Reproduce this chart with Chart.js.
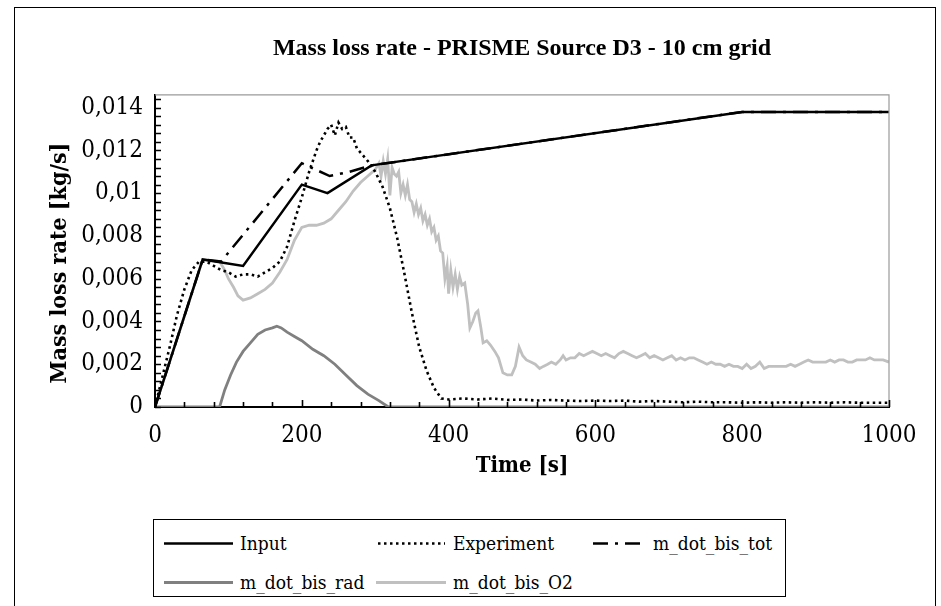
<!DOCTYPE html>
<html>
<head>
<meta charset="utf-8">
<script src="https://cdn.jsdelivr.net/npm/chart.js@4.4.1/dist/chart.umd.min.js"></script>
<style>
  html, body { margin: 0; padding: 0; background: #fff; }
  #wrap { position: relative; width: 941px; height: 606px; overflow: hidden; }
  #frame { position: absolute; left: 14px; top: 7px; width: 922px; height: 640px; border: 1.5px solid #000; box-sizing: border-box; }
  canvas { position: absolute; left: 0; top: 0; }
  #legend { position: absolute; left: 153px; top: 519px; width: 633px; height: 78px; border: 1.5px solid #000; box-sizing: border-box; background: #fff; }
  .item { position: absolute; height: 30px; font-family: "DejaVu Serif Condensed", "DejaVu Serif", serif; font-stretch: condensed; font-size: 19px; color: #000; white-space: nowrap; }
  .item svg { position: absolute; top: 0; }
  .item span { position: absolute; top: 3px; }
</style>
</head>
<body>
<div id="wrap">
  <div id="frame"></div>
  <canvas id="c" width="941" height="606"></canvas>
  <div id="legend"></div>
</div>
<script>
// ---------------- data ----------------
const seriesNames = ['Input', 'Experiment', 'm_dot_bis_tot', 'm_dot_bis_rad', 'm_dot_bis_O2'];

const inputTime   = [0, 65, 120, 200, 235, 295, 800, 1000];
const inputValues = [0, 0.0069, 0.0066, 0.0104, 0.0100, 0.0113, 0.0138, 0.0138];

const expTime   = [0,10,20,30,40,50,60,70,80,90,100,110,120,130,140,150,160,170,180,190,200,210,220,225,230,235,240,245,250,255,260,265,270,275,280,290,300,310,320,330,340,350,360,370,380,390,400,420,440,460,480,500,520,540,560,580,600,620,640,660,680,700,720,740,760,780,800,820,840,860,880,900,920,940,960,980,1000];
const expValues = [0,0.0014,0.0028,0.0043,0.0055,0.0064,0.0068,0.0068,0.0066,0.0064,0.0063,0.0061,0.0062,0.0062,0.0061,0.0063,0.0065,0.0068,0.0075,0.0087,0.0098,0.0110,0.0120,0.0124,0.0127,0.0130,0.0132,0.0127,0.0133,0.0130,0.0131,0.0126,0.0126,0.0121,0.0119,0.0115,0.0110,0.0103,0.0093,0.0079,0.0062,0.0044,0.0028,0.0017,0.0009,0.0004,0.00035,0.0004,0.00035,0.0004,0.00033,0.00035,0.0003,0.00033,0.0003,0.00028,0.0003,0.00028,0.0003,0.00025,0.00028,0.00025,0.00022,0.00025,0.00022,0.00022,0.0002,0.00022,0.0002,0.00022,0.0002,0.00022,0.0002,0.00022,0.0002,0.0002,0.0002];

const totTime   = [0, 65, 90, 200, 238, 265, 295, 800, 1000];
const totValues = [0, 0.0069, 0.0068, 0.0114, 0.0108, 0.0110, 0.0113, 0.0138, 0.0138];

const radTime   = [0,88,95,103,111,120,130,140,150,160,166,172,180,190,200,215,230,245,260,275,290,305,318,1000];
const radValues = [0,0,0.0008,0.0015,0.0021,0.0026,0.0030,0.0034,0.0036,0.0037,0.00378,0.0037,0.0035,0.0033,0.0031,0.0027,0.0024,0.0020,0.0015,0.0010,0.0006,0.0003,0,0];

const o2Time   = [0,65,88,95,100,107,113,120,130,140,150,160,170,180,190,200,210,220,230,240,250,260,270,280,290,300,305,308,311,314,317,320,323,326,329,332,335,338,341,344,347,350,353,356,359,362,365,368,371,374,377,380,383,386,389,392,395,398,400,403,406,409,412,415,418,422,426,429,433,437,440,444,447,452,457,463,468,474,480,486,491,496,501,506,512,518,524,529,535,540,546,552,556,560,566,572,578,584,590,596,602,608,614,620,626,632,638,644,650,656,662,668,674,680,686,692,698,704,710,716,722,728,734,740,746,752,758,764,770,776,782,788,794,800,806,812,818,824,830,836,842,848,854,860,866,872,878,884,890,896,902,908,914,920,926,932,938,944,950,956,962,968,974,980,986,992,1000];
const o2Values = [0,0.0069,0.0068,0.0064,0.0060,0.0056,0.0052,0.0050,0.0051,0.0053,0.0055,0.0058,0.0063,0.0069,0.0078,0.0084,0.0085,0.0085,0.0086,0.0088,0.0092,0.0096,0.0101,0.0105,0.0108,0.0111,0.0114,0.0108,0.0115,0.0109,0.0116,0.0099,0.0112,0.0109,0.0108,0.0110,0.0100,0.0104,0.0099,0.0104,0.0097,0.0096,0.0091,0.0095,0.0090,0.0093,0.0087,0.0090,0.0085,0.0088,0.0082,0.0084,0.0078,0.0080,0.0073,0.0072,0.0060,0.0066,0.0053,0.0064,0.0056,0.0062,0.0055,0.0061,0.0057,0.0058,0.0048,0.0037,0.0040,0.0044,0.0045,0.0037,0.0030,0.0031,0.0029,0.0026,0.0023,0.0016,0.0015,0.0015,0.0019,0.0028,0.0024,0.0022,0.0021,0.0020,0.0018,0.0019,0.0020,0.0021,0.0020,0.0022,0.0024,0.0022,0.0023,0.0023,0.0025,0.0024,0.0025,0.0026,0.0025,0.0024,0.0025,0.0024,0.0023,0.0025,0.0026,0.0025,0.0024,0.0023,0.0024,0.0025,0.0023,0.0024,0.0023,0.0022,0.0023,0.0024,0.0022,0.0023,0.0022,0.0023,0.0023,0.0022,0.0021,0.0020,0.0021,0.0020,0.0020,0.0019,0.0020,0.0019,0.0019,0.0018,0.0020,0.0018,0.0019,0.0021,0.0018,0.0019,0.0019,0.0019,0.0019,0.0019,0.0020,0.0019,0.0020,0.0021,0.0022,0.0021,0.0021,0.0021,0.0021,0.0022,0.0021,0.0022,0.0022,0.0021,0.0021,0.0022,0.0022,0.0022,0.0023,0.0022,0.0022,0.0022,0.0021];

const xTickLabels = ['0', '200', '400', '600', '800', '1000'];
const yTickLabels = ['0', '0,002', '0,004', '0,006', '0,008', '0,01', '0,012', '0,014'];

const titleText = 'Mass loss rate - PRISME Source D3 - 10 cm grid';
const xTitle = 'Time [s]';
const yTitle = 'Mass loss rate [kg/s]';

// ---------------- chart ----------------
const pts = (t, v) => t.map((x, i) => ({ x: x, y: v[i] }));
const serifC = '"DejaVu Serif Condensed", "DejaVu Serif", serif';

const styles = [
  { color: '#000000', width: 2.5, dash: [] },
  { color: '#000000', width: 2.6, dash: [2.5, 3.5] },
  { color: '#000000', width: 2.5, dash: [15, 7, 3, 7] },
  { color: '#808080', width: 2.8, dash: [] },
  { color: '#c0c0c0', width: 2.8, dash: [] }
];
const seriesData = [
  pts(inputTime, inputValues),
  pts(expTime, expValues),
  pts(totTime, totValues),
  pts(radTime, radValues),
  pts(o2Time, o2Values)
];

const axisDecor = {
  id: 'axisDecor',
  afterDraw(chart) {
    const ctx = chart.ctx, xs = chart.scales.x, ys = chart.scales.y, a = chart.chartArea;
    ctx.save();
    // plot area border (top & right)
    ctx.strokeStyle = '#9a9a9a';
    ctx.lineWidth = 1.2;
    ctx.beginPath();
    ctx.moveTo(a.left, a.top); ctx.lineTo(a.right, a.top); ctx.lineTo(a.right, a.bottom);
    ctx.stroke();
    // minor / major tick marks pointing inward
    ctx.strokeStyle = '#000';
    ctx.lineWidth = 1.6;
    ctx.beginPath();
    for (let i = 0; i <= 25; i++) {
      const px = Math.round(xs.getPixelForValue(i * 40)) + 0.5;
      const len = (i % 5 === 0) ? 7 : 5;
      ctx.moveTo(px, ys.bottom); ctx.lineTo(px, ys.bottom - len);
    }
    for (let i = 0; i <= 36; i++) {
      const py = Math.round(ys.getPixelForValue(i * 0.0004)) + 0.5;
      if (py < a.top) break;
      ctx.moveTo(xs.left, py); ctx.lineTo(xs.left + 6, py);
    }
    ctx.stroke();
    // y axis title
    ctx.fillStyle = '#000';
    ctx.font = 'bold 23px ' + serifC;
    ctx.textAlign = 'center';
    ctx.textBaseline = 'middle';
    ctx.translate(60, 263);
    ctx.rotate(-Math.PI / 2);
    ctx.fillText(yTitle, 0, 0);
    ctx.restore();
  }
};

new Chart(document.getElementById('c'), {
  type: 'line',
  data: {
    datasets: seriesNames.map((n, i) => ({
      label: n,
      data: seriesData[i],
      borderColor: styles[i].color,
      borderWidth: styles[i].width,
      borderDash: styles[i].dash,
      pointRadius: 0,
      tension: 0,
      fill: false
    }))
  },
  options: {
    responsive: false,
    animation: false,
    devicePixelRatio: 1,
    layout: { padding: { left: 0, right: 52, top: 0, bottom: 119 } },
    plugins: {
      legend: { display: false },
      tooltip: { enabled: false },
      title: {
        display: true,
        fullSize: false,
        text: titleText,
        color: '#000',
        font: { family: '"Liberation Serif", serif', size: 24, weight: 'bold', lineHeight: 1.2 },
        padding: { top: 34, bottom: 32 }
      }
    },
    scales: {
      x: {
        type: 'linear',
        min: 0, max: 1000,
        afterFit: (s) => { s.height = 80; },
        grid: { display: false, drawTicks: false },
        border: { display: true, color: '#000', width: 2 },
        ticks: {
          stepSize: 200,
          padding: 14,
          color: '#000',
          font: { family: serifC, size: 24 },
          callback: (v, i) => xTickLabels[i]
        },
        title: {
          display: true, text: xTitle, color: '#000',
          font: { family: serifC, size: 22, weight: 'bold', lineHeight: 1.2 },
          padding: { top: 0, bottom: 8 }
        }
      },
      y: {
        type: 'linear',
        min: 0, max: 0.0146,
        afterFit: (s) => { s.width = 155; },
        grid: { display: false, drawTicks: false },
        border: { display: true, color: '#000', width: 2 },
        ticks: {
          stepSize: 0.002,
          includeBounds: false,
          padding: 12,
          color: '#000',
          font: { family: serifC, size: 24 },
          callback: (v, i) => yTickLabels[i]
        },
        title: { display: false }
      }
    }
  },
  plugins: [axisDecor]
});

// ---------------- HTML legend ----------------
const legendPos = [
  { x: 10, y: 9, len: 69, tx: 86 },
  { x: 224, y: 9, len: 67, tx: 299 },
  { x: 439, y: 9, len: 53, tx: 499 },
  { x: 10, y: 48, len: 69, tx: 86 },
  { x: 222, y: 48, len: 70, tx: 299 }
];
const leg = document.getElementById('legend');
seriesNames.forEach((n, i) => {
  const p = legendPos[i], s = styles[i];
  const d = document.createElement('div');
  d.className = 'item';
  d.style.left = p.x + 'px';
  d.style.top = p.y + 'px';
  const dash = s.dash.length ? ` stroke-dasharray="${s.dash.join(',')}"` : '';
  d.innerHTML = `<svg width="${p.len}" height="30" style="left:0"><line x1="0" y1="14.5" x2="${p.len}" y2="14.5" stroke="${s.color}" stroke-width="${s.width}"${dash}/></svg><span style="left:${p.tx - p.x}px">${n}</span>`;
  leg.appendChild(d);
});
</script>
</body>
</html>
